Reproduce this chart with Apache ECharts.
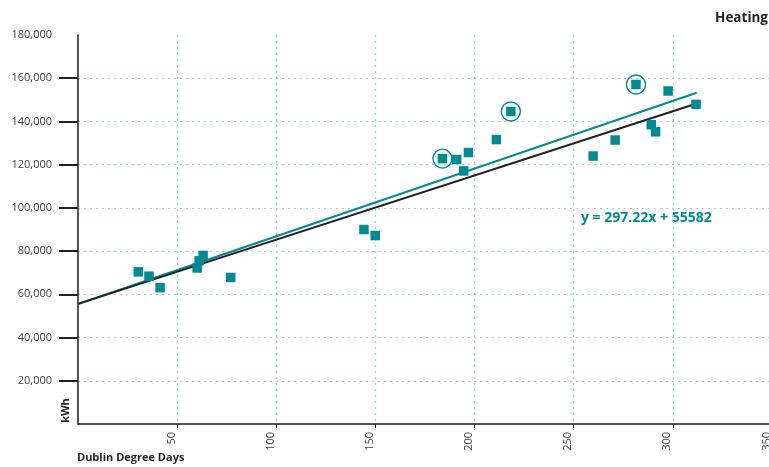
<!DOCTYPE html>
<html>
<head>
<meta charset="utf-8">
<script src="https://cdn.jsdelivr.net/npm/echarts@6/dist/echarts.min.js"></script>
<style>
  html, body { margin: 0; padding: 0; background: #ffffff; }
  #chart { width: 769px; height: 467px; }
</style>
</head>
<body>
<div id="chart"></div>
<script>
// Monthly heating energy against Dublin degree days
const degreeDays = [30.4, 35.8, 41.4, 60.1, 61.1, 63.1, 77.0, 144.2, 149.9, 183.8, 191.0, 194.5, 196.9, 211.0, 218.3, 259.8, 270.9, 281.4, 289.1, 291.3, 297.6, 311.7];
const kwh = [70400, 68400, 63100, 72200, 75500, 78000, 67800, 90000, 87200, 122800, 122400, 117100, 125600, 131600, 144600, 124000, 131400, 157100, 138500, 135200, 154100, 147900];

// Months singled out with a ring
const ringedDays = [183.8, 218.3, 281.4];
const ringedKwh = [122800, 144600, 157100];

// Regression line y = 297.22x + 55582
const fitSlope = 297.22;
const fitIntercept = 55582;
const fitDays = [0, 314];

// Second (teal) trend line end points
const tealTrendDays = [0, 312];
const tealTrendKwh = [55500, 153300];

// Axis ticks
const xTicks = [50, 100, 150, 200, 250, 300, 350];
const yTicks = [20000, 40000, 60000, 80000, 100000, 120000, 140000, 160000];
const yLabels = [20000, 40000, 60000, 80000, 100000, 120000, 140000, 160000, 180000];

const TEAL = '#008b93';
const INK = '#231f20';
const GRID = '#9fd3da';
const FONT = '"Open Sans", "Noto Sans", sans-serif';

const pairs = (xs, ys) => xs.map((x, i) => [x, ys[i]]);

const chart = echarts.init(document.getElementById('chart'), null, { renderer: 'canvas' });

chart.setOption({
  animation: false,
  backgroundColor: '#ffffff',
  grid: { left: 78, top: 35, right: -3, bottom: 43, containLabel: false, outerBoundsMode: 'none' },
  xAxis: {
    type: 'value',
    min: 0, max: 350, interval: 50,
    axisLine: { show: true, onZero: false, lineStyle: { color: INK, width: 1.5 } },
    axisTick: { show: true, customValues: xTicks, length: 4, lineStyle: { color: INK, width: 1 } },
    axisLabel: {
      customValues: xTicks,
      rotate: 90, margin: 8,
      verticalAlign: 'bottom',
      color: '#3d3d3d', fontFamily: FONT, fontSize: 11
    },
    splitLine: { show: true, lineStyle: { color: GRID, width: 1.2, type: [2, 4] } }
  },
  yAxis: {
    type: 'value',
    min: 0, max: 180000, interval: 20000,
    axisLine: { show: true, onZero: false, lineStyle: { color: INK, width: 1.5 } },
    axisTick: { show: true, customValues: yTicks, length: 19, lineStyle: { color: INK, width: 2 } },
    axisLabel: {
      customValues: yLabels,
      margin: 26,
      color: '#3d3d3d', fontFamily: FONT, fontSize: 11,
      formatter: v => v.toLocaleString('en-US')
    },
    splitLine: { show: true, lineStyle: { color: GRID, width: 1.2, type: [2, 4] } }
  },
  series: [
    {
      type: 'line',
      data: pairs(tealTrendDays, tealTrendKwh),
      showSymbol: false, silent: true, z: 2,
      lineStyle: { color: TEAL, width: 2 }
    },
    {
      type: 'line',
      data: fitDays.map(x => [x, fitSlope * x + fitIntercept]),
      showSymbol: false, silent: true, z: 3,
      lineStyle: { color: INK, width: 2 }
    },
    {
      type: 'scatter',
      data: pairs(degreeDays, kwh),
      symbol: 'rect', symbolSize: 9.5, z: 4,
      itemStyle: { color: TEAL, opacity: 1 }
    },
    {
      type: 'scatter',
      data: pairs(ringedDays, ringedKwh),
      symbol: 'circle', symbolSize: 19, z: 5,
      itemStyle: { color: 'rgba(0,0,0,0)', borderColor: TEAL, borderWidth: 1.4, opacity: 1 }
    }
  ],
  graphic: [
    {
      type: 'text', right: 1, top: 11,
      style: { text: 'Heating', fill: INK, font: 'bold 13.5px ' + FONT }
    },
    {
      type: 'text', left: 581, top: 211,
      style: { text: 'y = 297.22x + 55582', fill: TEAL, font: 'bold 14px ' + FONT }
    },
    {
      type: 'text', left: 77, top: 452,
      style: { text: 'Dublin Degree Days', fill: INK, font: 'bold 11px ' + FONT }
    },
    {
      type: 'text', x: 66, y: 410.5, rotation: Math.PI / 2,
      style: { text: 'kWh', fill: INK, font: 'bold 11px ' + FONT, align: 'center', verticalAlign: 'middle' }
    }
  ]
});
</script>
</body>
</html>
